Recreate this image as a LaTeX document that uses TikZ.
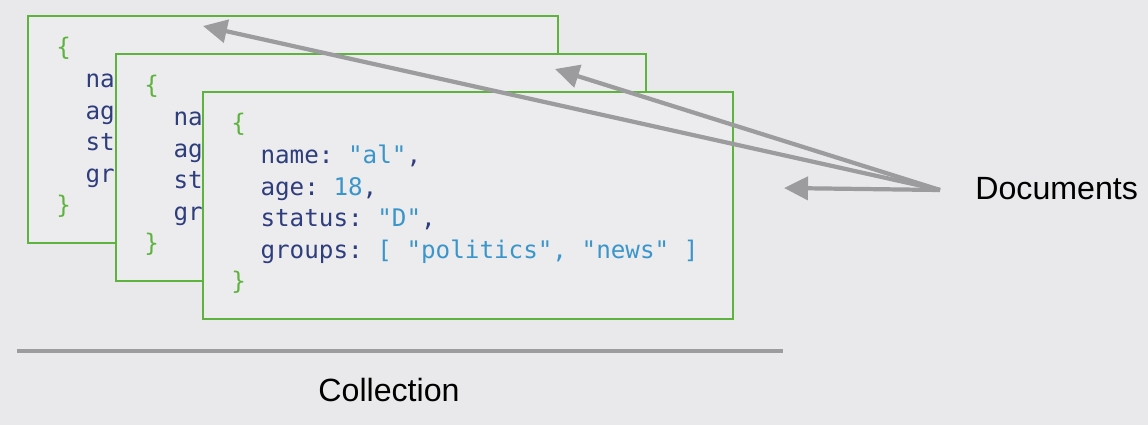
\documentclass[tikz,border=0pt]{standalone}
\usepackage{fontspec}
\setmainfont{Liberation Sans}
\setmonofont{DejaVu Sans Mono}
\usepackage{tikz}
\usetikzlibrary{arrows.meta, positioning, calc}
\definecolor{bgcol}{HTML}{E9E9EB}
\definecolor{boxfill}{HTML}{ECECEE}
\definecolor{docgreen}{HTML}{5DB33E}
\definecolor{keycol}{HTML}{2E3D7C}
\definecolor{valcol}{HTML}{3A96CA}
\definecolor{arrowgray}{HTML}{9C9C9E}
\newcommand{\jv}[1]{\textcolor{valcol}{#1}}
\newcommand{\jsonbody}{%
  \textcolor{docgreen}{\{}\\
  \phantom{xx}name: \jv{"al"},\\
  \phantom{xx}age: \jv{18},\\
  \phantom{xx}status: \jv{"D"},\\
  \phantom{xx}groups: \jv{[ "politics", "news" ]}\\
  \textcolor{docgreen}{\}}}
\newcommand{\jsonpeek}{%
  \textcolor{docgreen}{\{}\\
  \phantom{xx}na\\
  \phantom{xx}ag\\
  \phantom{xx}st\\
  \phantom{xx}gr\\
  \textcolor{docgreen}{\}}}
\tikzset{>=stealth}

\begin{document}
\begin{tikzpicture}[x=0.02cm, y=-0.02cm,
    docbox/.style={draw=docgreen, line width=1.3pt, fill=boxfill, anchor=north west,
        minimum width=10.6cm, minimum height=4.54cm, inner sep=0pt},
    jsontext/.style={anchor=north west, inner sep=0pt, align=left, text=keycol,
        font=\fontsize{13.8}{18}\selectfont\ttfamily},
    sidetext/.style={inner sep=0pt, font=\fontsize{18.3}{22}\selectfont},
    pointer/.style={draw=arrowgray, line width=2.4pt,
        -{Triangle[length=0.48cm, width=0.46cm]}}]

        \useasboundingbox[fill=bgcol] (0,0) rectangle (1148,425);

        \node[docbox] (doc1) at (27,15) {};
        \node[jsontext] (txt1) at ($(doc1.north west)+(29,22)$) {\jsonpeek};
        \node[docbox] (doc2) at (115,53) {};
        \node[jsontext] (txt2) at ($(doc2.north west)+(29,22)$) {\jsonpeek};
        \node[docbox] (doc3) at (202,91) {};
        \node[jsontext] (txt3) at ($(doc3.north west)+(29,22)$) {\jsonbody};

        \node[sidetext, anchor=west] (docs) at (975,188.5) {Documents};
        \coordinate (src) at (940,190);
        \coordinate (tip1) at ($(doc1.north west)+(176,11)$);
        \coordinate (tip2) at ($(doc2.north west)+(440,16)$);
        \coordinate (tip3) at (784,188);

        \draw[pointer] (src) -- (tip1);
        \draw[pointer] (src) -- (tip2);
        \draw[pointer] (src) -- (tip3);

        \coordinate (colL) at (17,351);
        \coordinate (colR) at (783,351);
        \draw[arrowgray, line width=2.6pt] (colL) -- (colR);
        \node[sidetext] (coll) at (389,390) {Collection};
\end{tikzpicture}
\end{document}
